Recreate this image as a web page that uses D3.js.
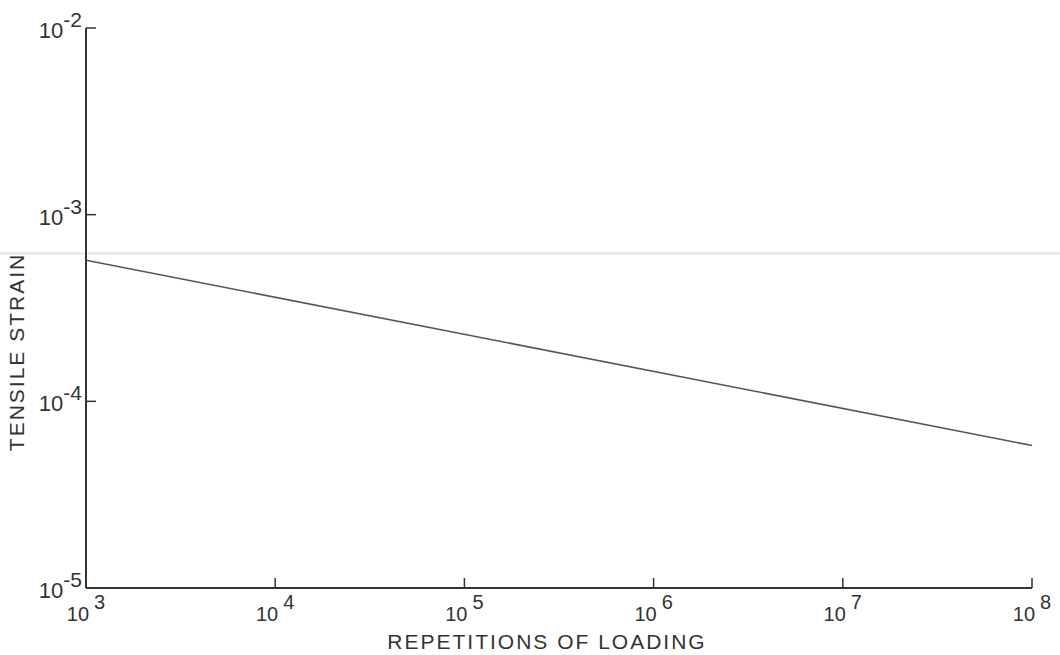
<!DOCTYPE html>
<html>
<head>
<meta charset="utf-8">
<script src="https://d3js.org/d3.v7.min.js"></script>
<style>
  body { margin: 0; background: #fff; }
  text { font-family: "Liberation Sans", "DejaVu Sans", sans-serif; fill: #333; }
</style>
</head>
<body>
<div id="chart"></div>
<script>
// tick exponents
var xExponents = [3, 4, 5, 6, 7, 8];
var yExponents = [-2, -3, -4, -5];

// fatigue line: repetitions vs tensile strain (end points)
var repetitions = [1e3, 1e8];
var strain = [5.7e-4, 5.8e-5];

// faint scan line across the sheet
var scanLine = [6.2e-4];

var width = 1060,
    height = 655;

var svg = d3.select("#chart")
    .append("svg")
    .attr("width", width)
    .attr("height", height);

var x = d3.scaleLog().domain([1e3, 1e8]).range([86, 1032]);
var y = d3.scaleLog().domain([1e-5, 1e-2]).range([588, 28]);

// faint horizontal line
svg.selectAll("line.scan")
    .data(scanLine)
    .enter().append("line")
    .attr("class", "scan")
    .attr("x1", 0).attr("x2", width)
    .attr("y1", function(d) { return y(d); })
    .attr("y2", function(d) { return y(d); })
    .attr("stroke", "#e4e4e4")
    .attr("stroke-width", 2);

// axes lines
svg.append("line")
    .attr("x1", x(1e3)).attr("x2", x(1e3))
    .attr("y1", y(1e-2)).attr("y2", y(1e-5))
    .attr("stroke", "#333").attr("stroke-width", 2);

svg.append("line")
    .attr("x1", x(1e3)).attr("x2", x(1e8))
    .attr("y1", y(1e-5)).attr("y2", y(1e-5))
    .attr("stroke", "#333").attr("stroke-width", 2);

// y ticks (inward)
svg.selectAll("line.ytick")
    .data(yExponents.filter(function(e) { return e > -5; }))
    .enter().append("line")
    .attr("class", "ytick")
    .attr("x1", x(1e3)).attr("x2", x(1e3) + 10)
    .attr("y1", function(e) { return y(Math.pow(10, e)); })
    .attr("y2", function(e) { return y(Math.pow(10, e)); })
    .attr("stroke", "#333").attr("stroke-width", 1.5);

// x ticks (upward)
svg.selectAll("line.xtick")
    .data(xExponents.filter(function(e) { return e > 3; }))
    .enter().append("line")
    .attr("class", "xtick")
    .attr("x1", function(e) { return x(Math.pow(10, e)); })
    .attr("x2", function(e) { return x(Math.pow(10, e)); })
    .attr("y1", y(1e-5)).attr("y2", y(1e-5) - 10)
    .attr("stroke", "#333").attr("stroke-width", 1.5);

// y tick labels
var yl = svg.selectAll("text.ylab")
    .data(yExponents)
    .enter().append("text")
    .attr("class", "ylab")
    .attr("text-anchor", "end")
    .attr("x", x(1e3) - 4)
    .attr("y", function(e) { return y(Math.pow(10, e)) + 10; })
    .style("font-size", "22px");
yl.append("tspan").text("10");
yl.append("tspan")
    .attr("dy", -11)
    .style("font-size", "21px")
    .text(function(e) { return e; });

// x tick labels
var xl = svg.selectAll("text.xlab")
    .data(xExponents)
    .enter().append("text")
    .attr("class", "xlab")
    .attr("text-anchor", "middle")
    .attr("x", function(e) { return x(Math.pow(10, e)); })
    .attr("y", 621)
    .style("font-size", "20px");
xl.append("tspan").text("10");
xl.append("tspan")
    .attr("dx", 5)
    .attr("dy", -12)
    .style("font-size", "20px")
    .text(function(e) { return e; });

// data line
var line = d3.line()
    .x(function(d, i) { return x(repetitions[i]); })
    .y(function(d) { return y(d); });

svg.append("path")
    .datum(strain)
    .attr("d", line)
    .attr("fill", "none")
    .attr("stroke", "#555")
    .attr("stroke-width", 1.6);

// axis titles
svg.append("text")
    .attr("x", 547)
    .attr("y", 649)
    .attr("text-anchor", "middle")
    .style("font-size", "21px")
    .style("letter-spacing", "2px")
    .text("REPETITIONS OF LOADING");

svg.append("text")
    .attr("transform", "translate(24,352) rotate(-90)")
    .attr("text-anchor", "middle")
    .style("font-size", "21px")
    .style("letter-spacing", "2px")
    .text("TENSILE  STRAIN");
</script>
</body>
</html>
